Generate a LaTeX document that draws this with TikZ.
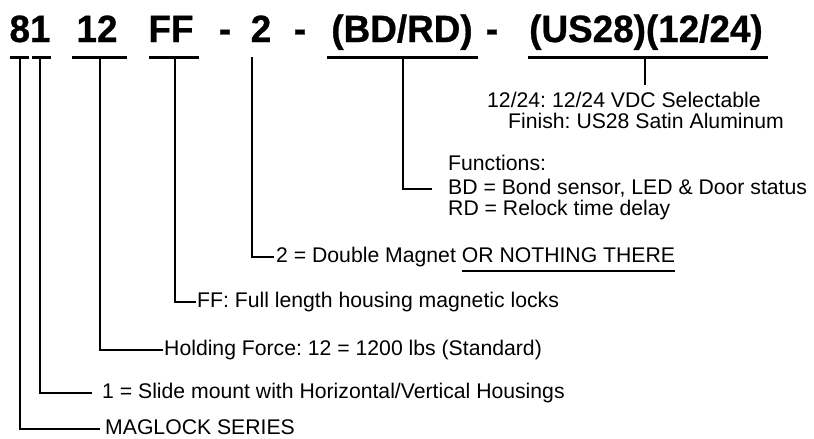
\documentclass[tikz,border=0pt]{standalone}
\usepackage{fontspec}
\setmainfont{Liberation Sans}
\newfontfamily\codefont[FakeBold=0.8]{Liberation Sans Bold}
\usetikzlibrary{positioning}
\frenchspacing

% underline set well below the baseline
\newcommand\lowline[1]{\setbox0\hbox{#1}\rlap{\rule[-9pt]{\wd0}{1.2pt}}\box0}

\begin{document}
\begin{tikzpicture}[x=1pt, y=-1pt,
    code/.style={font=\fontsize{38}{46}\codefont, xscale=0.97, anchor=base, inner sep=0pt},
    bar/.style={line width=3pt},
    lead/.style={line width=2pt},
    note/.style={font=\fontsize{21.2}{24}\selectfont, anchor=west, inner sep=0pt, text height=15pt, text depth=4pt}]
    \useasboundingbox (0,0) rectangle (814,439);
    % base line of the part number and level of the bars
    \def\base{42}
    \def\bary{57}

    % --- part number ---
    \node[code] (t81)    at (30,\base)  {81};
    \node[code] (t12)    at (97,\base)  {12};
    \node[code] (tFF)    at (171,\base) {FF};
    \node[code] (tDashA) at (225,\base) {-};
    \node[code] (t2)     at (261,\base) {2};
    \node[code] (tDashB) at (300,\base) {-};
    \node[code] (tBDRD)  at (402,\base) {(BD/RD)};
    \node[code] (tDashC) at (492,\base) {-};
    \node[code] (tUS)    at (646,\base) {(US28)(12/24)};

    % --- bars under each field ---
    \draw[bar] (10,\bary) -- (29,\bary);
    \draw[bar] (32,\bary) -- (51,\bary);
    \draw[bar] (72,\bary) -- (127,\bary);
    \draw[bar] (149,\bary) -- (199,\bary);
    \draw[bar] (327,\bary) -- (478,\bary);
    \draw[bar] (528,\bary) -- (768,\bary);
    \coordinate (b8)   at (20,\bary);
    \coordinate (b1)   at (40,\bary);
    \coordinate (b12)  at (100,\bary);
    \coordinate (bFF)  at (175,\bary);
    \coordinate (b2)   at (252,\bary);
    \coordinate (bBD)  at (403,\bary);
    \coordinate (bUS)  at (645,\bary);

    % --- descriptions ---
    \node[note] (lblVolt)    at (487,101.5) {12/24: 12/24 VDC Selectable};
    \node[note] (lblFinish)  at (508,122.5) {Finish: US28 Satin Aluminum};
    \node[note] (lblFunc)    at (448,164.5) {Functions:};
    \node[note] (lblBD)      at (448,189)   {BD = Bond sensor, LED \& Door status};
    \node[note] (lblRD)      at (448,209.5) {RD = Relock time delay};
    \node[note] (lblDouble)  at (276,257)   {2 = Double Magnet \lowline{OR NOTHING THERE}};
    \node[note] (lblHousing) at (197,302)   {FF: Full length housing magnetic locks};
    \node[note] (lblForce)   at (164,350)   {Holding Force: 12 = 1200 lbs (Standard)};
    \node[note] (lblSlide)   at (102,393)   {1 = Slide mount with Horizontal/Vertical Housings};
    \node[note] (lblSeries)  at (105,429)   {MAGLOCK SERIES};

    % --- leader lines ---
    \draw[lead] (bUS) -- ([yshift=7pt]bUS |- lblVolt.north);
    \draw[lead] (bBD) |- ([xshift=-16pt]lblBD.west);
    \draw[lead] (b2)  |- ([xshift=-2pt]lblDouble.west);
    \draw[lead] (bFF) |- ([xshift=-1pt]lblHousing.west);
    \draw[lead] (b12) |- ([xshift=-1pt]lblForce.west);
    \draw[lead] (b1)  |- ([xshift=-10pt]lblSlide.west);
    \draw[lead] (b8)  |- ([xshift=-5pt]lblSeries.west);
\end{tikzpicture}
\end{document}
